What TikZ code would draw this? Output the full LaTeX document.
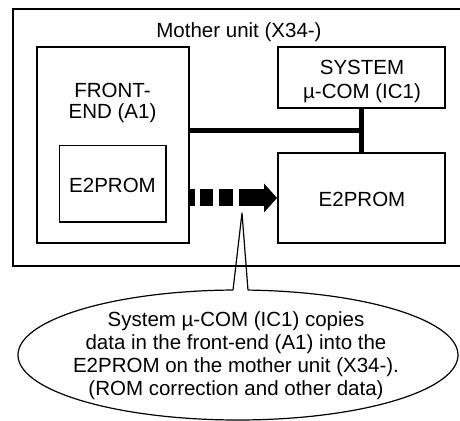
\documentclass[tikz,border=0pt]{standalone}
\usepackage{fontspec}
\setmainfont{Liberation Sans}
\usetikzlibrary{arrows.meta}
\begin{document}
\begin{tikzpicture}[x=1pt,y=1pt,
  box/.style={draw=black, line width=2pt, inner sep=0pt, fill=none},
  thinbox/.style={draw=black, line width=1.2pt, inner sep=0pt},
  txt/.style={font=\fontsize{20.5}{21.6}\selectfont, align=center, inner sep=0pt, anchor=base},
  bus/.style={line width=5pt},
  dasharrow/.style={line width=17pt, dash pattern=on 5.5pt off 5pt on 13pt off 6pt on 14pt off 6pt on 80pt,
    -{Triangle[length=13pt,width=29pt,line width=0pt]}},
  callout/.style={line width=1.2pt, line join=round}
]
\useasboundingbox (0,0) rectangle (460,420);
\clip (0,0) rectangle (460,420);
% boxes
\node[box, line width=2.6pt, minimum width=477pt, minimum height=257pt] (mother) at (251.5,282.5) {};
\node[box, minimum width=152pt, minimum height=196pt] (fe) at (112.5,275) {};
\node[thinbox, minimum width=106.5pt, minimum height=76.5pt] (fee) at (112.75,236.25) {};
\node[box, minimum width=167pt, minimum height=60.5pt] (sys) at (361.5,342.25) {};
\node[box, minimum width=167pt, minimum height=90.5pt] (e2r) at (361.5,221.75) {};
% texts (base anchor = baseline of the last line)
\node[txt] (tmother) at (239,382) {Mother unit (X34-)};
\node[txt] (tfe) at (112.5,301) {FRONT-\\END (A1)};
\node[txt] (tfee) at (112.5,227) {E2PROM};
\node[txt, font=\fontsize{20.5}{24.3}\selectfont] (tsys) at (362,321) {SYSTEM\\µ-COM (IC1)};
\node[txt] (te2r) at (362,213) {E2PROM};
% connectors
\coordinate (j) at (361,289.5);
\draw[bus] (fe.east |- j) -- (j);
\draw[bus] (sys.south -| j) -- (e2r.north -| j);
\coordinate (ay) at (0,222);
\draw[dasharrow] (fe.east |- ay) -- (e2r.west |- ay);
% callout
\coordinate (tip) at (242,207);
\coordinate (ec) at (238,65);
\draw[callout] (tip) -- ([shift={(91.3:220 and 65)}]ec) arc[start angle=91.3, end angle=447.4, x radius=220, y radius=65] -- cycle;
\node[txt, font=\fontsize{20.5}{23}\selectfont] (tcall) at (236,24) {System µ-COM (IC1) copies\\data in the front-end (A1) into the\\E2PROM on the mother unit (X34-).\\(ROM correction and other data)};
\end{tikzpicture}
\end{document}
